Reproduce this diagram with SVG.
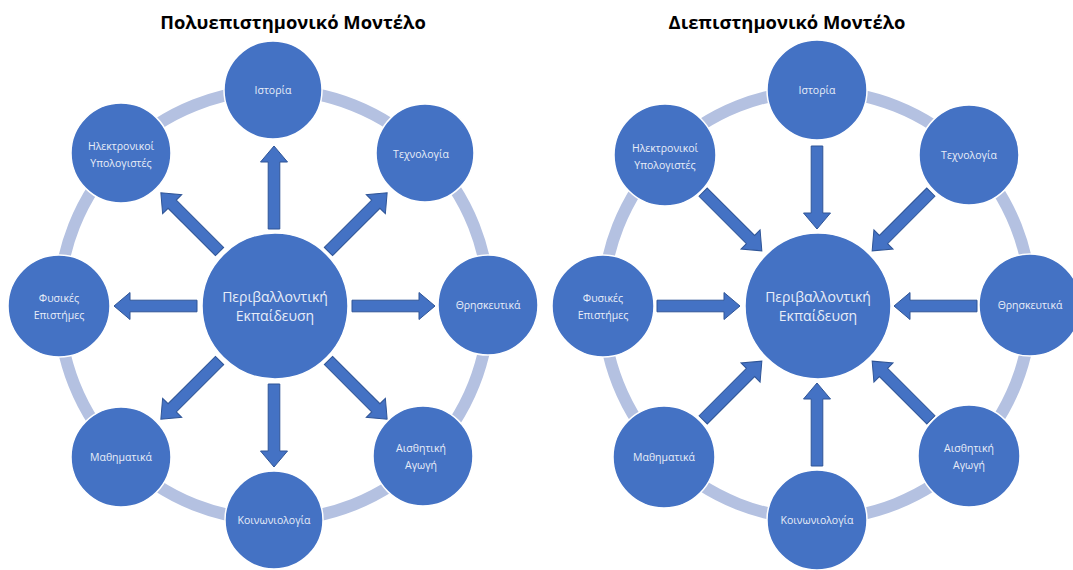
<svg xmlns="http://www.w3.org/2000/svg" width="1073" height="570" viewBox="0 0 1073 570">
<defs>
<style>
.ring{fill:none;stroke:#B4C1E1;stroke-width:12}
.node{fill:#4472C4;stroke:#FFFFFF;stroke-width:1.5}
.lbl{font-family:"Open Sans","Noto Sans",sans-serif;font-size:10.5px;fill:#E8EDF8;text-anchor:middle}
.clbl{font-family:"Open Sans","Noto Sans",sans-serif;font-size:14px;fill:#E8EDF8;text-anchor:middle}
.title{font-family:"Open Sans","Noto Sans",sans-serif;font-size:18.4px;font-weight:bold;fill:#000;text-anchor:middle}
.arr{fill:#4472C4;stroke:#2F5597;stroke-width:1}
</style>
<path id="ar" d="M0,-5.8 L67,-5.8 L67,-13.5 L83,0 L67,13.5 L67,5.8 L0,5.8 Z"/>
</defs>
<rect width="1073" height="570" fill="#FFFFFF"/>
<text class="title" x="293" y="29">Πολυεπιστημονικό Μοντέλο</text>
<text class="title" x="787" y="29">Διεπιστημονικό Μοντέλο</text>

<g id="rings">
<circle class="ring" cx="274" cy="305" r="215"/>
<circle class="ring" cx="817" cy="305" r="214"/>
</g>

<g id="connectors">
<!-- left: outward -->
<use href="#ar" class="arr" transform="translate(274,306) rotate(-90) translate(77,0)"/>
<use href="#ar" class="arr" transform="translate(274,306) rotate(90) translate(78,0)"/>
<use href="#ar" class="arr" transform="translate(274,306) rotate(180) translate(77,0)"/>
<use href="#ar" class="arr" transform="translate(274,306) rotate(0) translate(78,0)"/>
<use href="#ar" class="arr" transform="translate(274,306) rotate(-135) translate(77,0)"/>
<use href="#ar" class="arr" transform="translate(274,306) rotate(-45) translate(77,0)"/>
<use href="#ar" class="arr" transform="translate(274,306) rotate(135) translate(77,0)"/>
<use href="#ar" class="arr" transform="translate(274,306) rotate(45) translate(77,0)"/>
<!-- right: inward -->
<use href="#ar" class="arr" transform="translate(817,306) rotate(-90) translate(160,0) rotate(180)"/>
<use href="#ar" class="arr" transform="translate(817,306) rotate(90) translate(160,0) rotate(180)"/>
<use href="#ar" class="arr" transform="translate(817,306) rotate(180) translate(160,0) rotate(180)"/>
<use href="#ar" class="arr" transform="translate(817,306) rotate(0) translate(160,0) rotate(180)"/>
<use href="#ar" class="arr" transform="translate(817,306) rotate(-135) translate(161,0) rotate(180)"/>
<use href="#ar" class="arr" transform="translate(817,306) rotate(-45) translate(161,0) rotate(180)"/>
<use href="#ar" class="arr" transform="translate(817,306) rotate(135) translate(161,0) rotate(180)"/>
<use href="#ar" class="arr" transform="translate(817,306) rotate(45) translate(161,0) rotate(180)"/>
</g>

<!-- Left diagram nodes -->
<g id="L-center"><circle class="node" cx="275" cy="306" r="73"/>
<text class="clbl" x="275" y="302">Περιβαλλοντική</text><text class="clbl" x="275" y="321">Εκπαίδευση</text></g>
<g id="L-istoria"><circle class="node" cx="273" cy="90" r="49"/><text class="lbl" x="273" y="94">Ιστορία</text></g>
<g id="L-texnologia"><circle class="node" cx="425" cy="153" r="49"/><text class="lbl" x="421" y="158">Τεχνολογία</text></g>
<g id="L-thriskeftika"><circle class="node" cx="488" cy="305" r="50"/><text class="lbl" x="488" y="309">Θρησκευτικά</text></g>
<g id="L-aisthitiki"><circle class="node" cx="423" cy="456" r="50"/><text class="lbl" x="421" y="452">Αισθητική</text><text class="lbl" x="421" y="469">Αγωγή</text></g>
<g id="L-koinoniologia"><circle class="node" cx="274" cy="520" r="49"/><text class="lbl" x="274" y="524">Κοινωνιολογία</text></g>
<g id="L-mathimatika"><circle class="node" cx="121" cy="457" r="50"/><text class="lbl" x="121" y="461">Μαθηματικά</text></g>
<g id="L-fysikes"><circle class="node" cx="59" cy="306" r="51"/><text class="lbl" x="59" y="302">Φυσικές</text><text class="lbl" x="59" y="319">Επιστήμες</text></g>
<g id="L-ilektronikoi"><circle class="node" cx="121" cy="153" r="50"/><text class="lbl" x="121" y="150">Ηλεκτρονικοί</text><text class="lbl" x="121" y="167">Υπολογιστές</text></g>

<!-- Right diagram nodes -->
<g id="R-center"><circle class="node" cx="818" cy="306" r="73"/>
<text class="clbl" x="818" y="302">Περιβαλλοντική</text><text class="clbl" x="818" y="321">Εκπαίδευση</text></g>
<g id="R-istoria"><circle class="node" cx="817" cy="90" r="50"/><text class="lbl" x="817" y="94">Ιστορία</text></g>
<g id="R-texnologia"><circle class="node" cx="969" cy="155" r="50"/><text class="lbl" x="969" y="159">Τεχνολογία</text></g>
<g id="R-thriskeftika"><circle class="node" cx="1030" cy="305" r="51"/><text class="lbl" x="1030" y="309">Θρησκευτικά</text></g>
<g id="R-aisthitiki"><circle class="node" cx="969" cy="456" r="51"/><text class="lbl" x="969" y="452">Αισθητική</text><text class="lbl" x="969" y="469">Αγωγή</text></g>
<g id="R-koinoniologia"><circle class="node" cx="817" cy="520" r="50"/><text class="lbl" x="817" y="524">Κοινωνιολογία</text></g>
<g id="R-mathimatika"><circle class="node" cx="664" cy="457" r="51"/><text class="lbl" x="664" y="461">Μαθηματικά</text></g>
<g id="R-fysikes"><circle class="node" cx="603" cy="306" r="51"/><text class="lbl" x="603" y="302">Φυσικές</text><text class="lbl" x="603" y="319">Επιστήμες</text></g>
<g id="R-ilektronikoi"><circle class="node" cx="665" cy="155" r="51"/><text class="lbl" x="665" y="152">Ηλεκτρονικοί</text><text class="lbl" x="665" y="169">Υπολογιστές</text></g>
</svg>
